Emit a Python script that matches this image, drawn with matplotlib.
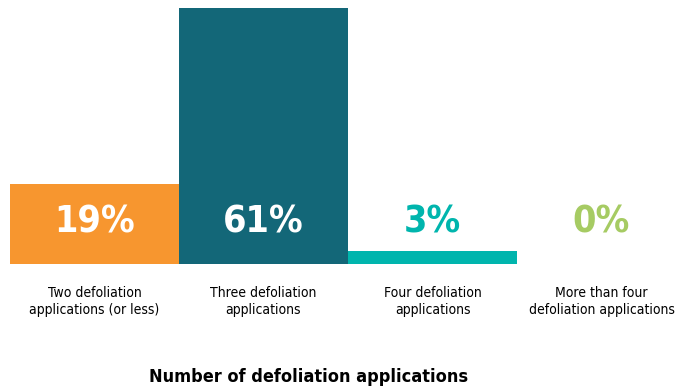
import matplotlib
matplotlib.use("Agg")
import matplotlib.pyplot as plt

categories = ["Two defoliation\napplications (or less)", "Three defoliation\napplications",
              "Four defoliation\napplications", "More than four\ndefoliation applications"]
values = [19, 61, 3, 0]
labels = ["19%", "61%", "3%", "0%"]
colors = ["#F7962F", "#136778", "#00B5AD", "#A6CB63"]
label_colors = ["white", "white", "#00B5AD", "#A6CB63"]
xlabel = "Number of defoliation applications"

W, H = 678, 390
fig = plt.figure(figsize=(W/100, H/100), dpi=100)
ax = fig.add_axes([10/W, 126/H, 676/W, 256/H])
x = list(range(len(values)))
ax.bar(x, values, width=1.0, color=colors, linewidth=0)
ax.set_xlim(-0.5, 3.5)
ax.set_ylim(0, 61)
ax.axis("off")

for xi, lab, lc in zip(x, labels, label_colors):
    ax.text(xi, 10, lab, ha="center", va="center", color=lc, fontsize=27,
            fontweight="bold", family="DejaVu Sans", fontstretch="condensed")

for xi, cat in zip(x, categories):
    ax.annotate(cat, xy=(xi, 0), xycoords="data", xytext=(0, -16), textcoords="offset points",
                ha="center", va="top", fontsize=10, family="DejaVu Sans",
                fontstretch="condensed", linespacing=1.25)

fig.text(309/W, 1 - 377/H, xlabel, ha="center", va="center", fontsize=13,
         fontweight="bold", family="DejaVu Sans", fontstretch="condensed")

fig.savefig("out.png", dpi=100)
